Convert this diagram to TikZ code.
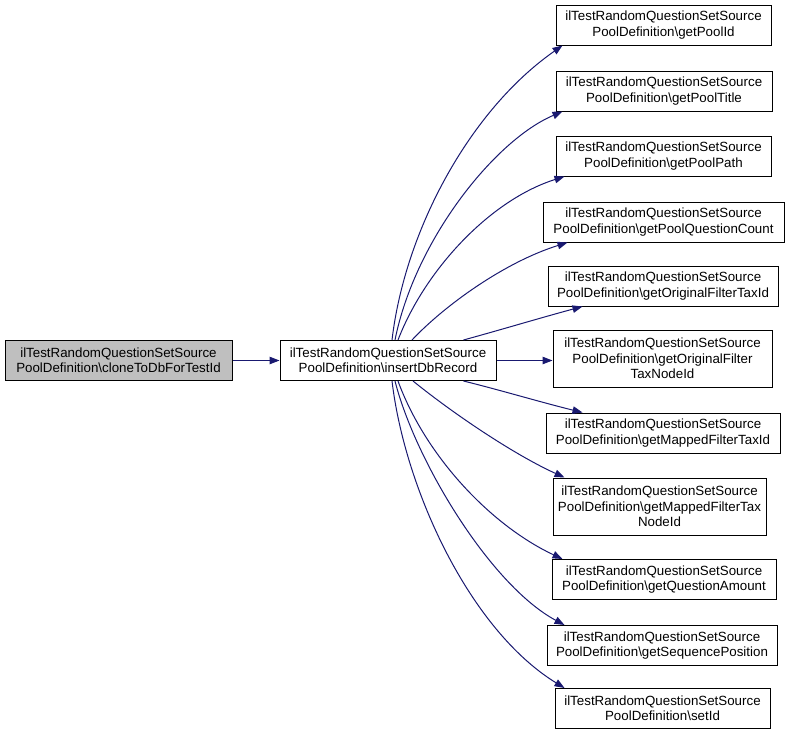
\documentclass[tikz,border=0pt]{standalone}
\usepackage{fontspec}
\setmainfont{Liberation Sans}
\usetikzlibrary{arrows.meta}
\definecolor{edgeblue}{HTML}{191970}
\definecolor{srcgray}{HTML}{BFBFBF}
\tikzset{
  fnbox/.style={draw=black, line width=1pt, align=center, inner xsep=2pt, inner ysep=0pt,
    minimum height=40pt, font=\fontsize{13.33}{15.3}\selectfont},
  tallbox/.style={fnbox, minimum height=57pt},
  callarrow/.style={draw=edgeblue, line width=1pt, -{Triangle[length=10pt,width=7.5pt]}}
}
\begin{document}
\begin{tikzpicture}[x=1pt,y=-1pt]
\useasboundingbox (0,0) rectangle (788,737);
\node[fnbox, fill=srcgray, minimum width=227pt] (src) at (118.5,360.5) {ilTestRandomQuestionSetSource\\PoolDefinition\textbackslash cloneToDbForTestId};
\node[fnbox, minimum width=216pt] (ins) at (388,360.5) {ilTestRandomQuestionSetSource\\PoolDefinition\textbackslash insertDbRecord};

\node[fnbox, minimum width=215pt] (t1) at (663.5,25) {ilTestRandomQuestionSetSource\\PoolDefinition\textbackslash getPoolId};
\node[fnbox, minimum width=216pt] (t2) at (664,91) {ilTestRandomQuestionSetSource\\PoolDefinition\textbackslash getPoolTitle};
\node[fnbox, minimum width=215pt] (t3) at (663.5,156) {ilTestRandomQuestionSetSource\\PoolDefinition\textbackslash getPoolPath};
\node[fnbox, minimum width=241pt] (t4) at (663.5,222) {ilTestRandomQuestionSetSource\\PoolDefinition\textbackslash getPoolQuestionCount};
\node[fnbox, minimum width=230pt] (t5) at (663,286) {ilTestRandomQuestionSetSource\\PoolDefinition\textbackslash getOriginalFilterTaxId};
\node[tallbox, minimum width=219pt] (t6) at (662.5,358.5) {ilTestRandomQuestionSetSource\\PoolDefinition\textbackslash getOriginalFilter\\TaxNodeId};
\node[fnbox, minimum width=234pt] (t7) at (663,433) {ilTestRandomQuestionSetSource\\PoolDefinition\textbackslash getMappedFilterTaxId};
\node[tallbox, minimum width=213pt] (t8) at (659.5,506.5) {ilTestRandomQuestionSetSource\\PoolDefinition\textbackslash getMappedFilterTax\\NodeId};
\node[fnbox, minimum width=224pt] (t9) at (664,579.5) {ilTestRandomQuestionSetSource\\PoolDefinition\textbackslash getQuestionAmount};
\node[fnbox, minimum width=230pt] (t10) at (662,645.5) {ilTestRandomQuestionSetSource\\PoolDefinition\textbackslash getSequencePosition};
\node[fnbox, minimum width=215pt] (t11) at (662.5,708.5) {ilTestRandomQuestionSetSource\\PoolDefinition\textbackslash setId};

\draw[callarrow] (src.east) -- (ins.west);

\draw[callarrow] ([xshift=4pt]ins.north) .. controls (405,230) and (470,110) .. ([xshift=7pt]t1.south west);
\draw[callarrow] ([xshift=7pt]ins.north) .. controls (415,240) and (495,140) .. ([xshift=7pt]t2.south west);
\draw[callarrow] ([xshift=10pt]ins.north) .. controls (425,270) and (490,200) .. ([xshift=9pt]t3.south west);
\draw[callarrow] ([xshift=24pt]ins.north) .. controls (445,305) and (505,262) .. ([xshift=25pt]t4.south west);
\draw[callarrow] ([xshift=-33pt]ins.north east) .. controls (500,330) and (540,318) .. ([xshift=35pt]t5.south west);
\draw[callarrow] (ins.east) -- (t6.west |- ins.east);
\draw[callarrow] ([xshift=-33pt]ins.south east) .. controls (500,390) and (540,402) .. ([xshift=37pt]t7.north west);
\draw[callarrow] ([xshift=25pt]ins.south) .. controls (455,415) and (515,455) .. ([xshift=12pt]t8.north west);
\draw[callarrow] ([xshift=10pt]ins.south) .. controls (425,455) and (490,525) .. ([xshift=11pt]t9.north west);
\draw[callarrow] ([xshift=7pt]ins.south) .. controls (415,460) and (490,585) .. ([xshift=18pt]t10.north west);
\draw[callarrow] ([xshift=4pt]ins.south) .. controls (405,490) and (470,630) .. ([xshift=10pt]t11.north west);
\end{tikzpicture}
\end{document}
